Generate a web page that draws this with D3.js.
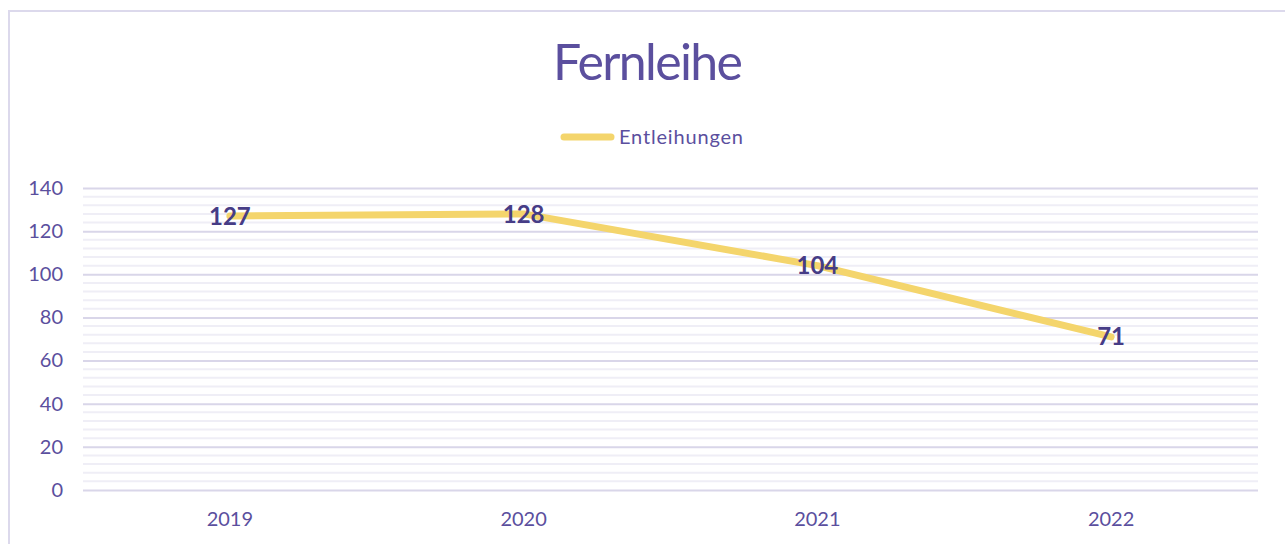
<!DOCTYPE html>
<html>
<head>
<meta charset="utf-8">
<script src="https://cdn.jsdelivr.net/npm/d3@7"></script>
<style>
  body { margin: 0; background: #fff; }
  svg { display: block; font-family: Lato, "Open Sans", sans-serif; }
</style>
</head>
<body>
<div id="chart"></div>
<script>
var years = ["2019", "2020", "2021", "2022"];
var entleihungen = [127, 128, 104, 71];
var yTicks = [0, 20, 40, 60, 80, 100, 120, 140];
var seriesName = "Entleihungen";
var chartTitle = "Fernleihe";

var W = 1285, H = 544;
var margin = {top: 188, right: 27, bottom: 54, left: 83};
var width = W - margin.left - margin.right,
    height = H - margin.top - margin.bottom;

var purple = "#5b4f9e", darkPurple = "#463c86", yellow = "#f4d56c";

var svg = d3.select("#chart").append("svg")
    .attr("width", W)
    .attr("height", H);

// outer frame (runs off the right and bottom)
svg.append("rect")
    .attr("x", 9).attr("y", 11)
    .attr("width", W + 20).attr("height", H + 20)
    .attr("fill", "none")
    .attr("stroke", "#dcd9ec")
    .attr("stroke-width", 2);

svg.append("text")
    .attr("x", 648).attr("y", 80)
    .attr("text-anchor", "middle")
    .attr("font-size", 50)
    .attr("fill", purple)
    .attr("textLength", 190)
    .attr("lengthAdjust", "spacing")
    .text(chartTitle);

// legend
svg.append("line")
    .attr("x1", 564).attr("x2", 611)
    .attr("y1", 137).attr("y2", 137)
    .attr("stroke", yellow)
    .attr("stroke-width", 7)
    .attr("stroke-linecap", "round");
svg.append("text")
    .attr("x", 619).attr("y", 144)
    .attr("font-size", 20)
    .attr("fill", purple)
    .attr("textLength", 124)
    .attr("lengthAdjust", "spacing")
    .text(seriesName);

var g = svg.append("g")
    .attr("transform", "translate(" + margin.left + "," + margin.top + ")");

var x = d3.scaleBand()
    .domain(years)
    .range([0, width]);

var y = d3.scaleLinear()
    .domain([0, 140])
    .range([height, 0]);

// minor grid every 4
g.append("g")
    .selectAll("line")
    .data(d3.range(0, 141, 4).filter(function(v) { return v % 20 !== 0; }))
    .enter().append("line")
      .attr("x1", 0).attr("x2", width)
      .attr("y1", function(d) { return y(d); })
      .attr("y2", function(d) { return y(d); })
      .attr("stroke", "#efeef6")
      .attr("stroke-width", 2);

// major grid
g.append("g")
    .call(d3.axisLeft(y).tickValues(yTicks).tickSize(-width).tickPadding(20))
    .call(function(a) {
      a.select(".domain").remove();
      a.selectAll(".tick line").attr("stroke", "#d9d6e9").attr("stroke-width", 2);
      a.selectAll(".tick text")
        .attr("fill", purple)
        .attr("font-size", 20)
        .attr("font-family", "Lato, sans-serif");
    });

g.append("g")
    .attr("transform", "translate(0," + height + ")")
    .call(d3.axisBottom(x).tickSize(0).tickPadding(22))
    .call(function(a) {
      a.select(".domain").remove();
      a.selectAll(".tick text")
        .attr("fill", purple)
        .attr("font-size", 20)
        .attr("font-family", "Lato, sans-serif");
    });

var pts = years.map(function(d, i) { return {year: d, value: entleihungen[i]}; });

var line = d3.line()
    .x(function(d) { return x(d.year) + x.bandwidth() / 2; })
    .y(function(d) { return y(d.value); });

g.append("path")
    .datum(pts)
    .attr("d", line)
    .attr("fill", "none")
    .attr("stroke", yellow)
    .attr("stroke-width", 7)
    .attr("stroke-linecap", "round")
    .attr("stroke-linejoin", "round");

g.selectAll(".lbl")
    .data(pts)
    .enter().append("text")
      .attr("class", "lbl")
      .attr("x", function(d) { return x(d.year) + x.bandwidth() / 2; })
      .attr("y", function(d) { return y(d.value); })
      .attr("dy", "0.36em")
      .attr("text-anchor", "middle")
      .attr("font-size", 24)
      .attr("font-weight", "bold")
      .attr("fill", darkPurple)
      .text(function(d) { return d.value; });
</script>
</body>
</html>
